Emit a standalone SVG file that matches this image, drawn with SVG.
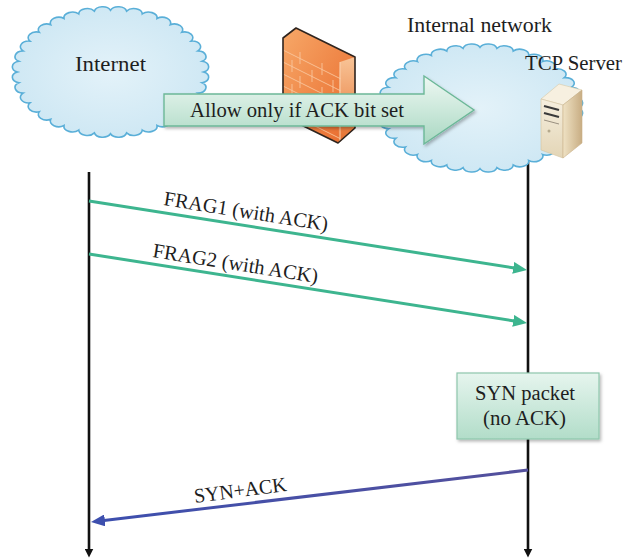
<svg xmlns="http://www.w3.org/2000/svg" width="626" height="560" viewBox="0 0 626 560">
  <style>
    .t { font-family: "Liberation Serif", "Times New Roman", serif; font-size: 20.5px; fill: #1e1e1e; }
    .cloud { fill: url(#cloudFill); stroke: #5aafd8; stroke-width: 1.6; }
    .life { stroke: #111; stroke-width: 2.6; fill: none; }
    .frag { stroke: #3db58f; stroke-width: 3; fill: none; }
    .synack { stroke: url(#synackGrad); stroke-width: 3; fill: none; }
    .brick { stroke: #f9c8a0; stroke-width: 1; fill: none; opacity: 0.85; }
  </style>
  <defs>
    <radialGradient id="cloudFill" cx="50%" cy="50%" r="60%">
      <stop offset="0" stop-color="#e3f2f9"/>
      <stop offset="1" stop-color="#cbe6f3"/>
    </radialGradient>
    <linearGradient id="greenFill" x1="0" y1="0" x2="0" y2="1">
      <stop offset="0" stop-color="#eef8f3"/>
      <stop offset="1" stop-color="#a9d8c2"/>
    </linearGradient>
    <linearGradient id="boxFill" x1="0" y1="0" x2="0" y2="1">
      <stop offset="0" stop-color="#e6f5ee"/>
      <stop offset="1" stop-color="#b2ddc9"/>
    </linearGradient>
    <linearGradient id="synackGrad" x1="0" y1="0" x2="1" y2="0">
      <stop offset="0" stop-color="#3d4fae"/>
      <stop offset="1" stop-color="#54509c"/>
    </linearGradient>
    <linearGradient id="wallFront" x1="0" y1="0" x2="1" y2="1">
      <stop offset="0" stop-color="#f7a868"/>
      <stop offset="1" stop-color="#e8682a"/>
    </linearGradient>
    <linearGradient id="wallSide" x1="0" y1="0" x2="0" y2="1">
      <stop offset="0" stop-color="#f8c497"/>
      <stop offset="1" stop-color="#e5702f"/>
    </linearGradient>
    <linearGradient id="srvSide" x1="0" y1="0" x2="1" y2="0">
      <stop offset="0" stop-color="#efe2c4"/>
      <stop offset="1" stop-color="#c8ad83"/>
    </linearGradient>
    <linearGradient id="srvFront" x1="0" y1="0" x2="0" y2="1">
      <stop offset="0" stop-color="#f6efdf"/>
      <stop offset="1" stop-color="#e3d5b6"/>
    </linearGradient>
    <filter id="shadow" x="-10%" y="-10%" width="130%" height="140%">
      <feDropShadow dx="1.5" dy="2" stdDeviation="1.5" flood-color="#000" flood-opacity="0.28"/>
    </filter>
    <clipPath id="wallClip">
      <path d="M283,38 L296,28 L341,53 L340,142 L283,116 Z"/>
    </clipPath>
    <!-- scalloped cloud outline on a circle of radius 60 -->
    <path id="cloudShape" vector-effect="non-scaling-stroke" d="M60,0 A5.5,5.5 0 0 1 59.1,10.4 A5.5,5.5 0 0 1 56.4,20.5 A5.5,5.5 0 0 1 52,30 A5.5,5.5 0 0 1 46,38.6 A5.5,5.5 0 0 1 38.6,46 A5.5,5.5 0 0 1 30,52 A5.5,5.5 0 0 1 20.5,56.4 A5.5,5.5 0 0 1 10.4,59.1 A5.5,5.5 0 0 1 0,60 A5.5,5.5 0 0 1 -10.4,59.1 A5.5,5.5 0 0 1 -20.5,56.4 A5.5,5.5 0 0 1 -30,52 A5.5,5.5 0 0 1 -38.6,46 A5.5,5.5 0 0 1 -46,38.6 A5.5,5.5 0 0 1 -52,30 A5.5,5.5 0 0 1 -56.4,20.5 A5.5,5.5 0 0 1 -59.1,10.4 A5.5,5.5 0 0 1 -60,0 A5.5,5.5 0 0 1 -59.1,-10.4 A5.5,5.5 0 0 1 -56.4,-20.5 A5.5,5.5 0 0 1 -52,-30 A5.5,5.5 0 0 1 -46,-38.6 A5.5,5.5 0 0 1 -38.6,-46 A5.5,5.5 0 0 1 -30,-52 A5.5,5.5 0 0 1 -20.5,-56.4 A5.5,5.5 0 0 1 -10.4,-59.1 A5.5,5.5 0 0 1 0,-60 A5.5,5.5 0 0 1 10.4,-59.1 A5.5,5.5 0 0 1 20.5,-56.4 A5.5,5.5 0 0 1 30,-52 A5.5,5.5 0 0 1 38.6,-46 A5.5,5.5 0 0 1 46,-38.6 A5.5,5.5 0 0 1 52,-30 A5.5,5.5 0 0 1 56.4,-20.5 A5.5,5.5 0 0 1 59.1,-10.4 A5.5,5.5 0 0 1 60,0 Z"/>
    <marker id="headGreen" markerUnits="userSpaceOnUse" markerWidth="14" markerHeight="12" refX="1" refY="6" orient="auto">
      <path d="M0,0 L14,6 L0,12 Z" fill="#3db58f"/>
    </marker>
    <marker id="headBlue" markerUnits="userSpaceOnUse" markerWidth="14" markerHeight="12" refX="1" refY="6" orient="auto">
      <path d="M0,0 L14,6 L0,12 Z" fill="#3d4fae"/>
    </marker>
    <marker id="headBlack" markerUnits="userSpaceOnUse" markerWidth="9" markerHeight="9" refX="0.5" refY="4.5" orient="auto">
      <path d="M0,0 L9,4.5 L0,9 Z" fill="#111"/>
    </marker>
  </defs>

  <rect width="626" height="560" fill="#fff"/>

  <!-- lifelines -->
  <g id="lifelines">
    <line class="life" x1="89" y1="172" x2="89" y2="549" marker-end="url(#headBlack)"/>
    <line class="life" x1="528" y1="162" x2="528" y2="549" marker-end="url(#headBlack)"/>
  </g>

  <g id="internet">
    <use href="#cloudShape" class="cloud" transform="translate(110.5,72) scale(1.55,1.03)"/>
    <text class="t" x="75" y="71" textLength="71" lengthAdjust="spacingAndGlyphs">Internet</text>
  </g>

  <g id="internal-network">
    <use href="#cloudShape" class="cloud" transform="translate(480,108) scale(1.62,1.01)"/>
    <text class="t" x="407" y="32" textLength="145" lengthAdjust="spacingAndGlyphs">Internal network</text>
  </g>

  <g id="firewall">
    <path d="M283,38 L296,28 L355,57 L355,128 L338,143 L283,116 Z" fill="url(#wallFront)"/>
    <path d="M340,62 L355,57 L355,128 L338,143 Z" fill="url(#wallSide)"/>
    <g clip-path="url(#wallClip)">
      <path class="brick" d="M283,50 L341,79 M283,62 L341,91 M283,74 L341,103 M283,86 L341,115 M283,98 L341,127 M283,110 L341,139"/>
      <path class="brick" d="M300,52 V64 M322,63 V75 M292,60 V72 M312,70 V82 M333,80 V92 M300,76 V88 M322,87 V99 M292,84 V96 M312,94 V106 M333,104 V116 M300,100 V112 M322,111 V123"/>
    </g>
    <path d="M340,62 L340,142" stroke="#fbd2b0" stroke-width="1"/>
    <path d="M283,38 L296,28 L355,57 L355,128 L338,143 L283,116 Z" fill="none" stroke="#2e241e" stroke-width="1.6" stroke-linejoin="round"/>
  </g>

  <g id="tcp-server">
    <text class="t" x="525" y="70" textLength="97" lengthAdjust="spacingAndGlyphs">TCP Server</text>
    <path d="M541,99 L559,84 L582,90 L563,105 Z" fill="#f7f0e0" stroke="#d9c9a6" stroke-width="0.6"/>
    <path d="M541,99 L563,105 L563,158 L541,150 Z" fill="url(#srvFront)" stroke="#d4c39f" stroke-width="0.6"/>
    <path d="M563,105 L582,90 L582,143 L563,158 Z" fill="url(#srvSide)" stroke="#c9b088" stroke-width="0.6"/>
    <path d="M544,106 L559,110 M544,113 L559,117" stroke="#3a3a3a" stroke-width="2.2"/>
    <path d="M544,120 L559,124" stroke="#9a9080" stroke-width="1"/>
    <circle cx="549" cy="131" r="1.5" fill="#b5a98c"/>
  </g>

  <g id="allow-arrow">
    <path d="M164,94 H424 V76 L474,110 L424,144 V126 H164 Z" fill="url(#greenFill)" stroke="#6cb898" stroke-width="1.4" filter="url(#shadow)"/>
    <text class="t" x="190" y="117" textLength="214" lengthAdjust="spacingAndGlyphs">Allow only if ACK bit set</text>
  </g>

  <g id="syn-packet">
    <rect x="457" y="373" width="142" height="66" fill="url(#boxFill)" stroke="#8ec6ac" stroke-width="1.2" filter="url(#shadow)"/>
    <text class="t" x="475" y="400" textLength="100" lengthAdjust="spacingAndGlyphs">SYN packet</text>
    <text class="t" x="483" y="425" textLength="83" lengthAdjust="spacingAndGlyphs">(no ACK)</text>
  </g>

  <!-- message connectors -->
  <g id="connectors">
    <line class="frag" x1="89" y1="201" x2="514.2" y2="268" marker-end="url(#headGreen)"/>
    <line class="frag" x1="89" y1="254" x2="514.2" y2="321" marker-end="url(#headGreen)"/>
    <line class="synack" x1="528" y1="470" x2="103.9" y2="520.5" marker-end="url(#headBlue)"/>
    <text class="t" transform="translate(163,205) rotate(9)" textLength="166" lengthAdjust="spacingAndGlyphs">FRAG1 (with ACK)</text>
    <text class="t" transform="translate(152,257) rotate(9)" textLength="167" lengthAdjust="spacingAndGlyphs">FRAG2 (with ACK)</text>
    <text class="t" transform="translate(195,503) rotate(-7.5)" textLength="93" lengthAdjust="spacingAndGlyphs">SYN+ACK</text>
  </g>
</svg>
